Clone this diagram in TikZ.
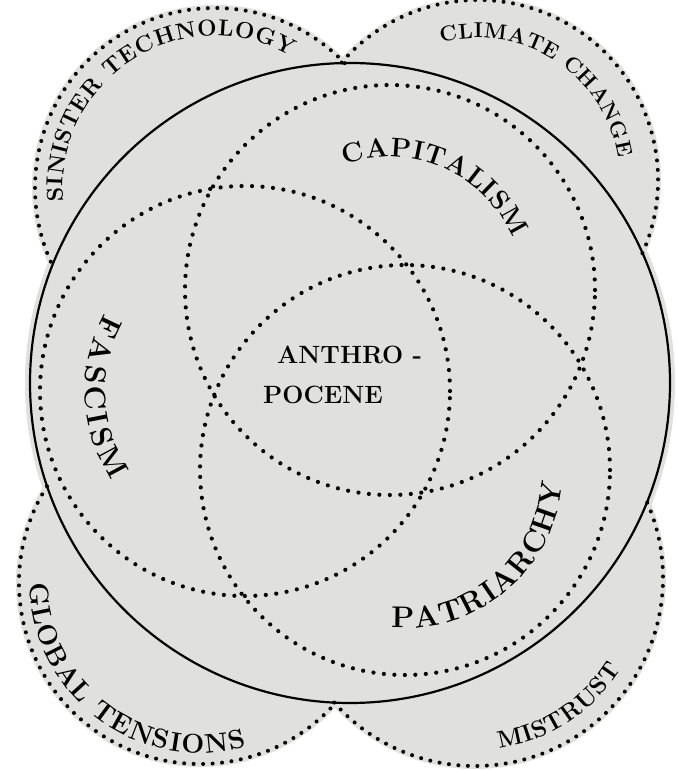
\documentclass[tikz,border=0pt]{standalone}
\usepackage{fontspec}
\usetikzlibrary{decorations.text}
\definecolor{paper}{RGB}{224,224,222}
\newcommand{\lblsize}[1]{\fontsize{#1}{#1}\selectfont\bfseries}
\tikzset{
  outline/.style={line width=2.2pt},
  dotline/.style={line width=4.2pt,line cap=round,dash pattern=on 0pt off 10.5pt},
  rimdots/.style={line width=4pt,line cap=round,dash pattern=on 0pt off 9.5pt},
  arctext/.style={decorate,decoration={text along path,text align={fit to path}}}
}
\begin{document}
\begin{tikzpicture}[x=1pt,y=1pt,font=\lblsize{25}]
  \useasboundingbox (0,0) rectangle (677,770);
  \coordinate (big) at (350,387);
  \coordinate (sinister) at (215,582);
  \coordinate (climate) at (478,590);
  \coordinate (global) at (200,187);
  \coordinate (mistrust) at (475,192);
  \coordinate (capital) at (390,480);
  \coordinate (fascism) at (245,379);
  \coordinate (patriarchy) at (405,300);
  \foreach \c/\r in {big/325,sinister/183,climate/183,global/184,mistrust/191}
    {\fill[paper] (\c) circle[radius=\r pt];}
  \foreach \c in {capital,fascism,patriarchy}
    {\draw[dotline] (\c) circle[radius=205pt];}
  \draw[outline] (big) circle[radius=320pt];
  \foreach \c/\a/\b/\r in {sinister/43.9/205.5/180,climate/-24/139.5/180,
      global/147.7/318.6/181,mistrust/221.5/383.8/188}
    {\draw[rimdots] ([shift={(\a:\r pt)}]\c) arc[start angle=\a,end angle=\b,radius=\r pt];}
  \path[arctext,decoration={text={|\lblsize{23}|SINISTER TECHNOLOGY}}]
    ([shift={(185:152pt)}]sinister) arc[start angle=185,end angle=60,radius=152pt];
  \path[arctext,decoration={text={|\lblsize{21.5}|CLIMATE CHANGE}}]
    ([shift={(105:142pt)}]climate) arc[start angle=105,end angle=9,radius=142pt];
  \path[arctext,decoration={text={|\lblsize{27}|GLOBAL TENSIONS}}]
    ([shift={(180:170pt)}]global) arc[start angle=180,end angle=286,radius=170pt];
  \path[arctext,decoration={text={|\lblsize{24}|MISTRUST}}]
    ([shift={(278:172pt)}]mistrust) arc[start angle=278,end angle=328,radius=172pt];
  \path[arctext,decoration={text={|\lblsize{27}|CAPITALISM}}]
    ([shift={(110:133pt)}]capital) arc[start angle=110,end angle=23,radius=133pt];
  \path[arctext,decoration={text={|\lblsize{30}|FASCISM}}]
    ([shift={(151:160pt)}]fascism) arc[start angle=151,end angle=214,radius=160pt];
  \path[arctext,decoration={text={|\lblsize{30}|PATRIARCHY}}]
    ([shift={(265:158pt)}]patriarchy) arc[start angle=265,end angle=355,radius=158pt];
  \node[anchor=west,inner sep=0pt] (anthro) at (277,415) {ANTHRO -};
  \node[anchor=west,inner sep=0pt] (pocene) at (263,375) {POCENE};
\end{tikzpicture}
\end{document}
